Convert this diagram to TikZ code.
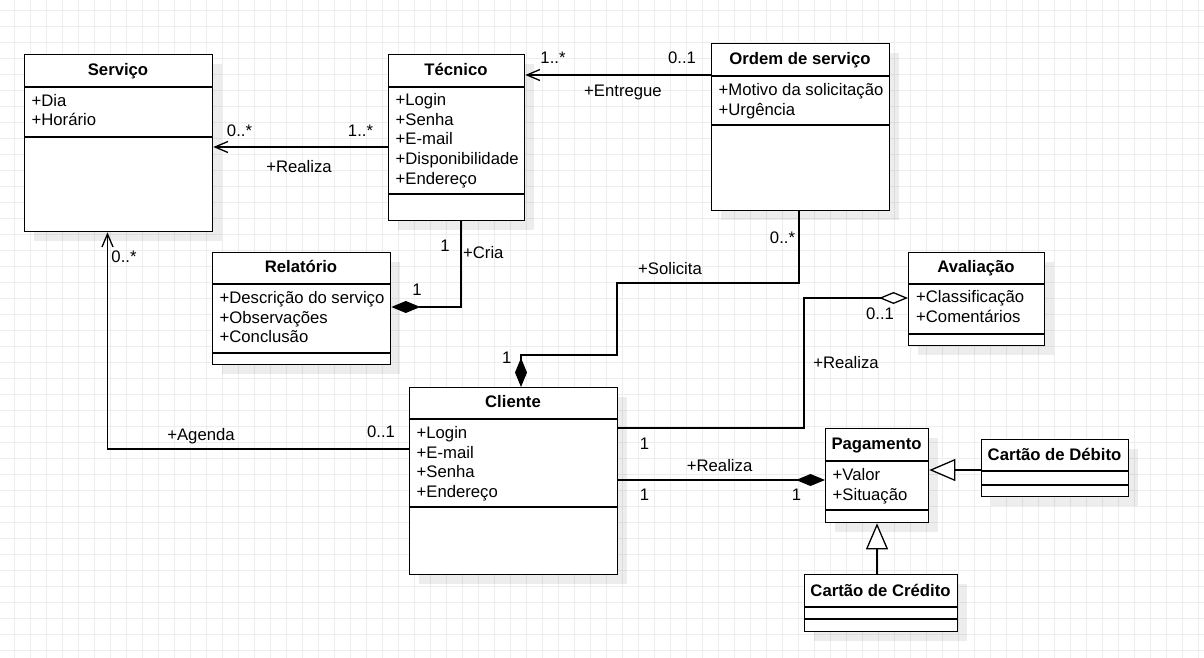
\documentclass[tikz,border=0pt]{standalone}
\usepackage{fontspec}
\setmainfont{Liberation Sans}
\usetikzlibrary{arrows.meta,shadows}

\begin{document}
\begin{tikzpicture}[x=1pt, y=-1pt, line width=1.3pt,
                every node/.style={font=\fontsize{16.7}{19.6}\selectfont, inner sep=0pt},
                classbox/.style={draw, fill=white, anchor=north west,
                    drop shadow={shadow xshift=9pt, shadow yshift=-9pt, opacity=0.07, fill=black}},
                classname/.style={font=\fontsize{16.7}{19.6}\selectfont\bfseries, anchor=base},
                attrs/.style={anchor=north west, align=left},
                mult/.style={anchor=base},
                gridline/.style={black!7, line width=1pt},
                assoc/.style={-{Straight Barb[length=13pt,width=11pt]}},
                comp/.style={-{Diamond[length=29pt,width=12pt]}},
                aggr/.style={-{Diamond[open,length=29pt,width=12pt,fill=white]}},
                inherit/.style={-{Triangle[open,length=26pt,width=22pt,fill=white]}}]

                \useasboundingbox (0,0) rectangle (1204,658);
                \fill[white] (0,0) rectangle (1204,658);
                \foreach \gx in {14.3,30.3,...,1204} \draw[gridline] (\gx,0) -- (\gx,658);
                \foreach \gy in {10.3,26.3,...,658} \draw[gridline] (0,\gy) -- (1204,\gy);

                % classes
                \node[classbox, minimum width=188pt, minimum height=177pt] (servico) at (24,54) {};
                \node[classname] (servicoT) at (118,76) {Serviço};
                \node[attrs] (servicoA) at (31,93.5) {+Dia\\+Horário};
                \draw (servico.north west) ++(0,33) -- +(188,0);
                \draw (servico.north west) ++(0,83) -- +(188,0);

                \node[classbox, minimum width=136pt, minimum height=166pt] (tecnico) at (388,54) {};
                \node[classname] (tecnicoT) at (456,76) {Técnico};
                \node[attrs] (tecnicoA) at (395,93) {+Login\\+Senha\\+E-mail\\+Disponibilidade\\+Endereço};
                \draw (tecnico.north west) ++(0,33) -- +(136,0);
                \draw (tecnico.north west) ++(0,140) -- +(136,0);

                \node[classbox, minimum width=178pt, minimum height=167pt] (ordem) at (711,43) {};
                \node[classname] (ordemT) at (800,65) {Ordem de serviço};
                \node[attrs] (ordemA) at (718,82.8) {+Motivo da solicitação\\+Urgência};
                \draw (ordem.north west) ++(0,33) -- +(178,0);
                \draw (ordem.north west) ++(0,82) -- +(178,0);

                \node[classbox, minimum width=178pt, minimum height=112pt] (relatorio) at (212,252) {};
                \node[classname] (relatorioT) at (301,272.7) {Relatório};
                \node[attrs] (relatorioA) at (219,290.8) {+Descrição do serviço\\+Observações\\+Conclusão};
                \draw (relatorio.north west) ++(0,32) -- +(178,0);
                \draw (relatorio.north west) ++(0,101) -- +(178,0);

                \node[classbox, minimum width=136pt, minimum height=93pt] (avaliacao) at (908,252) {};
                \node[classname] (avaliacaoT) at (976,272.7) {Avaliação};
                \node[attrs] (avaliacaoA) at (915.5,290.2) {+Classificação\\+Comentários};
                \draw (avaliacao.north west) ++(0,32) -- +(136,0);
                \draw (avaliacao.north west) ++(0,82) -- +(136,0);

                \node[classbox, minimum width=208pt, minimum height=187pt] (cliente) at (409,387) {};
                \node[classname] (clienteT) at (513,407.7) {Cliente};
                \node[attrs] (clienteA) at (416,425.8) {+Login\\+E-mail\\+Senha\\+Endereço};
                \draw (cliente.north west) ++(0,32) -- +(208,0);
                \draw (cliente.north west) ++(0,120) -- +(208,0);

                \node[classbox, minimum width=103pt, minimum height=94pt] (pagamento) at (825,428) {};
                \node[classname] (pagamentoT) at (876.5,449.3) {Pagamento};
                \node[attrs] (pagamentoA) at (832,467.8) {+Valor\\+Situação};
                \draw (pagamento.north west) ++(0,33) -- +(103,0);
                \draw (pagamento.north west) ++(0,82) -- +(103,0);

                \node[classbox, minimum width=147pt, minimum height=57pt] (debito) at (981,439) {};
                \node[classname] (debitoT) at (1054.5,460) {Cartão de Débito};
                \draw (debito.north west) ++(0,32) -- +(147,0);
                \draw (debito.north west) ++(0,46) -- +(147,0);

                \node[classbox, minimum width=153pt, minimum height=57pt] (credito) at (804,574) {};
                \node[classname] (creditoT) at (880.5,596) {Cartão de Crédito};
                \draw (credito.north west) ++(0,33) -- +(153,0);
                \draw (credito.north west) ++(0,45) -- +(153,0);

                % connectors
                \draw[assoc] (tecnico.west |- 0,147) -- (servico.east |- 0,147); % Tecnico realiza Servico
                \draw[assoc] (ordem.west |- 0,75) -- (tecnico.east |- 0,75); % Ordem entregue ao Tecnico
                \draw[comp] (tecnico.south -| 461,0) |- (relatorio.east |- 0,307); % Tecnico cria Relatorio
                \draw[comp] (ordem.south -| 799,0) |- (617,283) |- (521,355) -- (cliente.north -| 521,0); % Cliente solicita Ordem
                \draw[assoc] (cliente.west |- 0,449) -| (servico.south -| 107.5,0); % Cliente agenda Servico
                \draw[aggr] (cliente.east |- 0,428) -| (804,298) -- (avaliacao.west |- 0,298); % Cliente realiza Avaliacao
                \draw[comp] (cliente.east |- 0,480) -- (pagamento.west |- 0,480); % Cliente realiza Pagamento
                \draw[inherit] (debito.west |- 0,470) -- (pagamento.east |- 0,470);
                \draw[inherit] (credito.north -| 877,0) -- (pagamento.south -| 877,0);

                % labels
                \node[mult] (m1) at (239.5,136) {0..*};
                \node[mult] (m2) at (360.5,136) {1..*};
                \node[mult] (r1) at (299,172.7) {+Realiza};
                \node[mult] (m3) at (553,63.3) {1..*};
                \node[mult] (m4) at (682,63.3) {0..1};
                \node[mult] (r2) at (623,96.5) {+Entregue};
                \node[mult] (m5) at (445,251.7) {1};
                \node[mult, anchor=base west] (r3) at (462.5,258) {+Cria};
                \node[mult] (m6) at (417,295) {1};
                \node[mult] (m7) at (782.5,243.3) {0..*};
                \node[mult] (r4) at (670,274.3) {+Solicita};
                \node[mult] (m8) at (506.7,363.3) {1};
                \node[mult] (m9) at (124,262.7) {0..*};
                \node[mult] (r5) at (201,440) {+Agenda};
                \node[mult] (m10) at (381,437.7) {0..1};
                \node[mult] (m11) at (880,319.3) {0..1};
                \node[mult] (r6) at (846,368.3) {+Realiza};
                \node[mult] (m12) at (644.6,449) {1};
                \node[mult] (r7) at (719.6,471.7) {+Realiza};
                \node[mult] (m13) at (644.6,500.7) {1};
                \node[mult] (m14) at (796.4,500.7) {1};

                \end{tikzpicture}
\end{document}
